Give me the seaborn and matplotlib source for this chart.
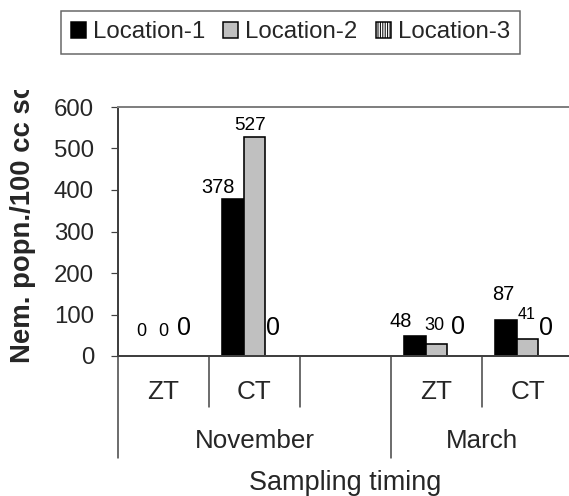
import numpy as np
import pandas as pd
import matplotlib
matplotlib.use("Agg")
import matplotlib.pyplot as plt
import seaborn as sns
from matplotlib.patches import Patch
from matplotlib.transforms import Bbox, blended_transform_factory

# ---------------- data ----------------
slot_keys = ["Nov-ZT", "Nov-CT", "Nov-blank", "Mar-ZT", "Mar-CT"]
slot_labels = ["ZT", "CT", "", "ZT", "CT"]
months = ["November", "March"]
locations = ["Location-1", "Location-2", "Location-3"]
data_slots = ["Nov-ZT", "Nov-CT", "Mar-ZT", "Mar-CT"]
loc1 = [0, 378, 48, 87]
loc2 = [0, 527, 30, 41]
loc3 = [0, 0, 0, 0]

rows = []
for loc, vals in zip(locations, [loc1, loc2, loc3]):
    for s, v in zip(data_slots, vals):
        rows.append({"slot": s, "value": v, "location": loc})
df = pd.DataFrame(rows)

# ---------------- style ----------------
DPI = 72
W, H = 569, 496
colors = {"Location-1": "#000000", "Location-2": "#c0c0c0", "Location-3": "#ffffff"}
# label offsets (px) relative to bar center/top, and font size
label_style = {
    ("Location-1", "Nov-ZT"): (0, 24, 18),
    ("Location-1", "Nov-CT"): (-15, 12, 20),
    ("Location-1", "Mar-ZT"): (-14, 15, 20),
    ("Location-1", "Mar-CT"): (-2, 25, 20),
    ("Location-2", "Nov-ZT"): (0, 24, 18),
    ("Location-2", "Nov-CT"): (-4, 12, 19),
    ("Location-2", "Mar-ZT"): (-2.5, 18, 18),
    ("Location-2", "Mar-CT"): (-1, 24, 16),
    ("Location-3", "Nov-ZT"): (-1.5, 28, 25),
    ("Location-3", "Nov-CT"): (-3, 28, 25),
    ("Location-3", "Mar-ZT"): (0, 29, 25),
    ("Location-3", "Mar-CT"): (-3, 28, 25),
}

sns.set_style("white")
plt.rcParams["font.family"] = ["Liberation Sans", "DejaVu Sans"]
plt.rcParams["hatch.linewidth"] = 1.0

fig = plt.figure(figsize=(W / DPI, H / DPI), dpi=DPI)
ax_left, ax_right = 118 / W, 573 / W
ax_top, ax_bottom = 1 - 107 / H, 1 - 356 / H
ax = fig.add_axes([ax_left, ax_bottom, ax_right - ax_left, ax_top - ax_bottom])
ax.patch.set_alpha(0)

sns.barplot(data=df, x="slot", y="value", hue="location", order=slot_keys,
            hue_order=locations, palette=colors, width=0.72, saturation=1,
            edgecolor="black", linewidth=1.6, ax=ax, legend=False)

ax.set_xlim(-0.5, len(slot_keys) - 0.5)
ax.set_ylim(0, 600)
ax.set_yticks(np.arange(0, 601, 100))
ax.tick_params(axis="y", direction="out", length=7, width=1.2, color="#404040",
               labelsize=24, pad=17, left=True)
ax.set_xticks([])
ax.set_xlabel("")
ax.set_ylabel("")

for name in ["left", "bottom"]:
    ax.spines[name].set_color("#404040")
    ax.spines[name].set_linewidth(2)
ax.spines["top"].set_color("#808080")
ax.spines["top"].set_linewidth(2)
ax.spines["right"].set_color("#808080")
ax.spines["right"].set_linewidth(2)

# patterns and labels
for container, loc in zip(ax.containers, locations):
    for bar in container:
        h = bar.get_height()
        if np.isnan(h):
            continue
        xc = bar.get_x() + bar.get_width() / 2
        slot = slot_keys[int(round(xc))]
        if loc == "Location-3":
            bar.set_hatch("|||||")
        if h == 0:
            bar.set_linewidth(0)
            bar.set_hatch(None)
        dx, dy, fs = label_style[(loc, slot)]
        ax.annotate(f"{h:g}", xy=(xc, h), xytext=(dx, dy), textcoords="offset points",
                    ha="center", va="center", fontsize=fs, color="black",
                    annotation_clip=False)

# multi-level category axis
trans = blended_transform_factory(ax.transData, ax.transAxes)
axh = 356 - 107
inner_y = -(407 - 356) / axh
outer_y = -(458 - 356) / axh
n = len(slot_keys)
outer_bounds = [-0.5, 2.5, n - 0.5]
inner_bounds = [0.5, 1.5, 3.5]
for xb in outer_bounds:
    ax.plot([xb, xb], [0, outer_y], transform=trans, color="#404040", lw=1.5,
            clip_on=False)
for xb in inner_bounds:
    ax.plot([xb, xb], [0, inner_y], transform=trans, color="#404040", lw=1.5,
            clip_on=False)
for i, lab in enumerate(slot_labels):
    if lab:
        ax.text(i, -(392 - 356) / axh, lab, transform=trans, ha="center",
                va="center", fontsize=26)
month_centers = [1.0, 3.5]
for mc, m in zip(month_centers, months):
    ax.text(mc, -(441 - 356) / axh, m, transform=trans, ha="center",
            va="center", fontsize=26)

fig.text(345.5 / W, 1 - 483 / H, "Sampling timing", ha="center", va="center",
         fontsize=27)

ylab = fig.text(23 / W, 1 - 363 / H, "Nem. popn./100 cc soil", rotation=90,
                ha="center", va="bottom", fontsize=27.5, fontweight="bold")
ylab.set_clip_box(Bbox.from_extents(0, 0, W, H - 90))
ylab.set_clip_on(True)

handles = [Patch(facecolor=colors["Location-1"], edgecolor="black", lw=1.5),
           Patch(facecolor=colors["Location-2"], edgecolor="black", lw=1.5),
           Patch(facecolor=colors["Location-3"], edgecolor="black", lw=1.5,
                 hatch="|||||")]
leg = fig.legend(handles, locations, ncol=3, loc="center",
                 bbox_to_anchor=((59 + 522) / 2 / W, 1 - (12 + 53) / 2 / H),
                 fontsize=24, frameon=True, fancybox=False, handlelength=0.62,
                 handleheight=0.62, handletextpad=0.3, columnspacing=0.75,
                 borderpad=0.42, edgecolor="#404040")
leg.get_frame().set_linewidth(1.5)

fig.savefig("out.png", dpi=DPI)
